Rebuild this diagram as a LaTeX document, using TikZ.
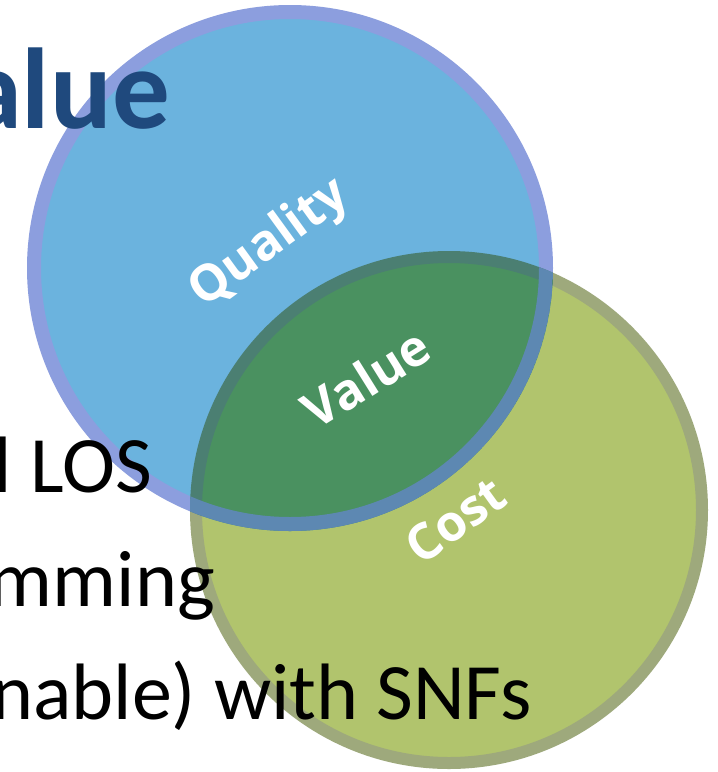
\documentclass[tikz,border=0pt]{standalone}
\usepackage{fontspec}
\setmainfont{Carlito}
\newfontfamily\circfont{Open Sans}
\usetikzlibrary{positioning}

\definecolor{qualfill}{HTML}{6BB3DE}
\definecolor{qualrim}{HTML}{8C9EDE}
\definecolor{costfill}{HTML}{B1C46D}
\definecolor{costrim}{HTML}{9EA97C}
\definecolor{valfill}{HTML}{4A9160}
\definecolor{valrim}{HTML}{4B7F72}
\definecolor{overrim}{HTML}{5D88B2}
\definecolor{titleblue}{HTML}{1F497D}

\begin{document}
\begin{tikzpicture}[
  x=1pt, y=-1pt,
  circlabel/.style={text=white, inner sep=0pt, font=\circfont\bfseries\fontsize{50}{50}\selectfont},
  bodyline/.style={anchor=base east, inner sep=0pt, font=\fontsize{80}{80}\selectfont}
]

\clip (0,0) rectangle (718,772);
\fill[white] (0,0) rectangle (718,772);

% --- Circles ---
\filldraw[fill=costfill, draw=costrim, line width=12pt] (449,510) circle[radius=253pt];
\filldraw[fill=qualfill, draw=qualrim, line width=14pt] (290,268) circle[radius=256pt];

% --- Overlap ---
\begin{scope}
  \clip (290,268) circle[radius=263pt];
  \filldraw[fill=valfill, draw=valrim, line width=12pt] (449,510) circle[radius=253pt];
  \clip (449,510) circle[radius=259pt];
  \draw[overrim, line width=14pt] (290,268) circle[radius=256pt];
\end{scope}

% --- Labels ---
\node[circlabel, rotate=36] (quality) at (270,244) {Quality};
\node[circlabel, rotate=32] (value)   at (366,378) {Value};
\node[circlabel, rotate=36] (cost)    at (455,520) {Cost};

% --- Slide text ---
\node[anchor=base east, inner sep=0pt, text=titleblue,
      font=\bfseries\fontsize{115}{115}\selectfont] (title) at (170,128) {alue};

\node[bodyline] (los)  at (152,492) {l LOS};
\node[bodyline] (prog) at (215,606) {mming};
\node[bodyline] (snf)  at (532,719) {nable) with SNFs};

\end{tikzpicture}
\end{document}
